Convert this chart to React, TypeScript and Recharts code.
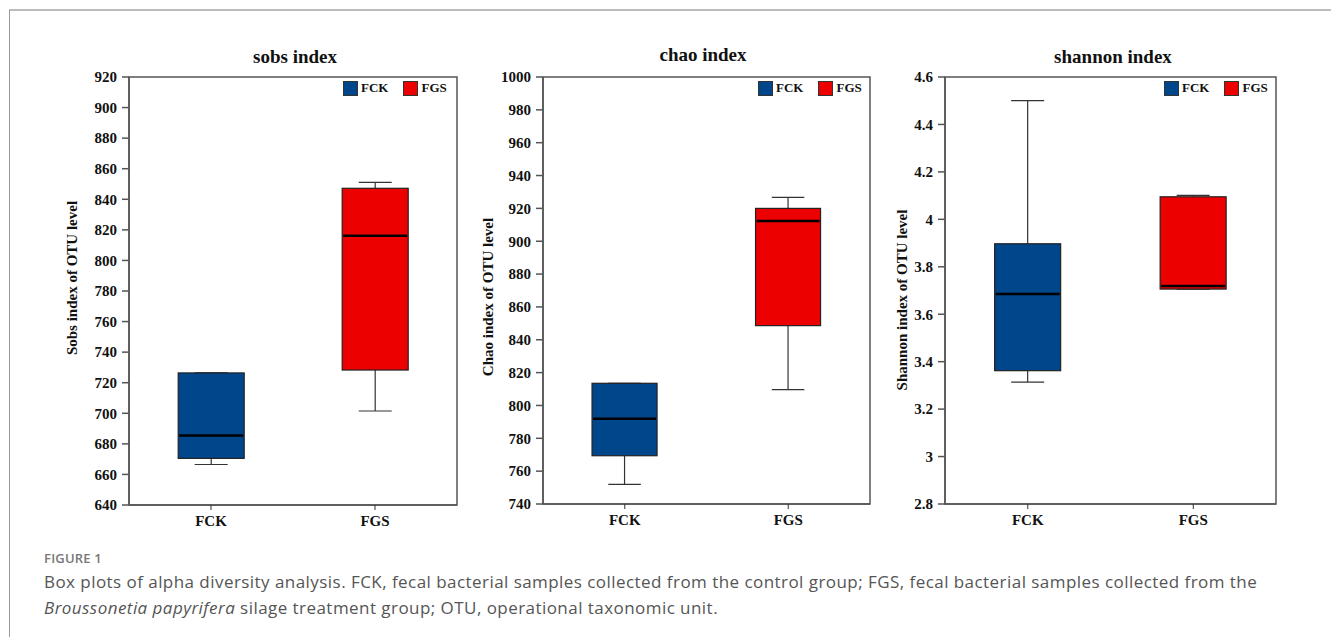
import React from "react";
import { ComposedChart, Bar, XAxis, YAxis, ReferenceArea, Legend } from "recharts";

const groups = ["FCK", "FGS"];
const groupColors = ["#00468B", "#ED0000"];

// sobs index
const sobsMin = [666.5, 701.5];
const sobsQ1 = [670.5, 728.3];
const sobsMedian = [685.4, 816.2];
const sobsQ3 = [726.4, 847.2];
const sobsMax = [726.4, 851.1];
const sobsTicks = [640, 660, 680, 700, 720, 740, 760, 780, 800, 820, 840, 860, 880, 900, 920];

// chao index
const chaoMin = [752, 809.6];
const chaoQ1 = [769.4, 848.6];
const chaoMedian = [791.9, 912.3];
const chaoQ3 = [813.5, 920];
const chaoMax = [813.5, 926.7];
const chaoTicks = [740, 760, 780, 800, 820, 840, 860, 880, 900, 920, 940, 960, 980, 1000];

// shannon index
const shannonMin = [3.314, 3.706];
const shannonQ1 = [3.362, 3.706];
const shannonMedian = [3.685, 3.719];
const shannonQ3 = [3.897, 4.095];
const shannonMax = [4.5, 4.101];
const shannonTicks = [2.8, 3, 3.2, 3.4, 3.6, 3.8, 4, 4.2, 4.4, 4.6];

const SERIF = "'Liberation Serif', 'Times New Roman', serif";
const AXIS_COLOR = "#555";

interface BoxRow {
  group: string;
  min: number;
  q1: number;
  median: number;
  q3: number;
  max: number;
}

function buildRows(
  mins: number[],
  q1s: number[],
  medians: number[],
  q3s: number[],
  maxs: number[]
): BoxRow[] {
  return groups.map((g, i) => ({
    group: g,
    min: mins[i],
    q1: q1s[i],
    median: medians[i],
    q3: q3s[i],
    max: maxs[i],
  }));
}

// the bar covers [min, max]; box parts are placed along that span
function BoxShape(props: any) {
  const { x, y, width, height, payload } = props;
  const top = Math.min(y, y + height);
  const bottom = Math.max(y, y + height);
  const span = payload.max - payload.min || 1;
  const py = (v: number) => top + ((payload.max - v) / span) * (bottom - top);
  const cx = x + width / 2;
  const cap = width / 4;
  const color = groupColors[groups.indexOf(payload.group)];
  const yQ1 = py(payload.q1);
  const yQ3 = py(payload.q3);
  const yMed = py(payload.median);
  return (
    <g>
      <line x1={cx} x2={cx} y1={top} y2={yQ3} stroke="#333" strokeWidth={1.2} />
      <line x1={cx - cap} x2={cx + cap} y1={top} y2={top} stroke="#333" strokeWidth={1.2} />
      <line x1={cx} x2={cx} y1={yQ1} y2={bottom} stroke="#333" strokeWidth={1.2} />
      <line x1={cx - cap} x2={cx + cap} y1={bottom} y2={bottom} stroke="#333" strokeWidth={1.2} />
      <rect
        x={x}
        y={yQ3}
        width={width}
        height={Math.max(yQ1 - yQ3, 0.5)}
        fill={color}
        stroke="#222"
        strokeWidth={1.2}
      />
      <line x1={x + 1} x2={x + width - 1} y1={yMed} y2={yMed} stroke="#000" strokeWidth={2.5} />
    </g>
  );
}

function LegendBox() {
  return (
    <div style={{ display: "flex", alignItems: "center", fontFamily: SERIF, fontWeight: "bold", fontSize: 13, color: "#111" }}>
      {groups.map((g, i) => (
        <div key={g} style={{ display: "flex", alignItems: "center", marginRight: i === 0 ? 15 : 0 }}>
          <span
            style={{
              display: "inline-block",
              width: 13,
              height: 13,
              background: groupColors[i],
              border: "1px solid #333",
              marginRight: 3,
            }}
          />
          <span>{g}</span>
        </div>
      ))}
    </div>
  );
}

interface PanelProps {
  rows: BoxRow[];
  ticks: number[];
  left: number;
  width: number;
  margin: { top: number; right: number; bottom: number; left: number };
  legendLeft: number;
}

function BoxPanel({ rows, ticks, left, width, margin, legendLeft }: PanelProps) {
  const domain = [ticks[0], ticks[ticks.length - 1]];
  return (
    <div style={{ position: "absolute", left, top: 0 }}>
      <ComposedChart width={width} height={540} data={rows} margin={margin} barCategoryGap="30%">
        <XAxis
          dataKey="group"
          height={30}
          tickSize={5}
          tickMargin={5}
          tick={{ fill: "#111", fontSize: 15, fontWeight: "bold", fontFamily: SERIF }}
          axisLine={{ stroke: AXIS_COLOR, strokeWidth: 1.5 }}
          tickLine={{ stroke: "#333" }}
        />
        <YAxis
          type="number"
          domain={domain}
          ticks={ticks}
          interval={0}
          width={60}
          tickSize={7}
          tickMargin={5}
          tick={{ fill: "#111", fontSize: 15, fontWeight: "bold", fontFamily: SERIF }}
          axisLine={{ stroke: AXIS_COLOR, strokeWidth: 1.5 }}
          tickLine={{ stroke: AXIS_COLOR, strokeWidth: 1.5 }}
        />
        <ReferenceArea y1={domain[0]} y2={domain[1]} fill="none" stroke={AXIS_COLOR} strokeWidth={1.5} />
        <Bar
          dataKey={(d: BoxRow) => [d.min, d.max]}
          shape={BoxShape}
          isAnimationActive={false}
        />
        <Legend
          layout="horizontal"
          verticalAlign="middle"
          align="center"
          content={() => <LegendBox />}
          wrapperStyle={{ top: 80, left: legendLeft, width: "auto", height: "auto" }}
        />
      </ComposedChart>
    </div>
  );
}

const titleStyle: React.CSSProperties = {
  position: "absolute",
  fontFamily: SERIF,
  fontWeight: "bold",
  fontSize: 19,
  color: "#111",
  transform: "translate(-50%, -50%)",
  whiteSpace: "nowrap",
};

const yLabelStyle: React.CSSProperties = {
  position: "absolute",
  fontFamily: SERIF,
  fontWeight: "bold",
  fontSize: 15,
  color: "#111",
  transform: "translate(-50%, -50%) rotate(-90deg)",
  whiteSpace: "nowrap",
};

export default function App() {
  const sobsRows = buildRows(sobsMin, sobsQ1, sobsMedian, sobsQ3, sobsMax);
  const chaoRows = buildRows(chaoMin, chaoQ1, chaoMedian, chaoQ3, chaoMax);
  const shannonRows = buildRows(shannonMin, shannonQ1, shannonMedian, shannonQ3, shannonMax);

  return (
    <div style={{ position: "absolute", left: 0, top: 0, width: 1331, height: 637, background: "#fff", overflow: "hidden" }}>
      {/* page frame */}
      <div style={{ position: "absolute", left: 9, top: 9, width: 1322, height: 2, background: "#bbb" }} />
      <div style={{ position: "absolute", left: 9, top: 10, width: 1, height: 627, background: "#999" }} />

      <BoxPanel rows={sobsRows} ticks={sobsTicks} left={0} width={470} margin={{ top: 77, right: 13, bottom: 5, left: 69 }} legendLeft={343} />
      <BoxPanel rows={chaoRows} ticks={chaoTicks} left={470} width={410} margin={{ top: 77, right: 10, bottom: 6, left: 13 }} legendLeft={288} />
      <BoxPanel rows={shannonRows} ticks={shannonTicks} left={880} width={451} margin={{ top: 77, right: 55, bottom: 6, left: 5 }} legendLeft={284} />

      <div style={{ ...titleStyle, left: 295, top: 57 }}>sobs index</div>
      <div style={{ ...titleStyle, left: 703, top: 55 }}>chao index</div>
      <div style={{ ...titleStyle, left: 1113, top: 57 }}>shannon index</div>

      <div style={{ ...yLabelStyle, left: 72, top: 278 }}>Sobs index of OTU level</div>
      <div style={{ ...yLabelStyle, left: 488, top: 297 }}>Chao index of OTU level</div>
      <div style={{ ...yLabelStyle, left: 902, top: 300 }}>Shannon index of OTU level</div>

      <div
        style={{
          position: "absolute",
          left: 44,
          top: 549,
          fontFamily: "'Open Sans', sans-serif",
          fontSize: 13,
          fontWeight: 600,
          color: "#777",
          letterSpacing: 0.2,
        }}
      >
        FIGURE 1
      </div>
      <div
        style={{
          position: "absolute",
          left: 44,
          top: 569,
          fontFamily: "'Open Sans', sans-serif",
          fontSize: 17,
          letterSpacing: 0.45,
          lineHeight: "26px",
          color: "#555",
          whiteSpace: "nowrap",
        }}
      >
        Box plots of alpha diversity analysis. FCK, fecal bacterial samples collected from the control group; FGS, fecal bacterial samples collected from the
        <br />
        <i>Broussonetia papyrifera</i> silage treatment group; OTU, operational taxonomic unit.
      </div>
    </div>
  );
}
